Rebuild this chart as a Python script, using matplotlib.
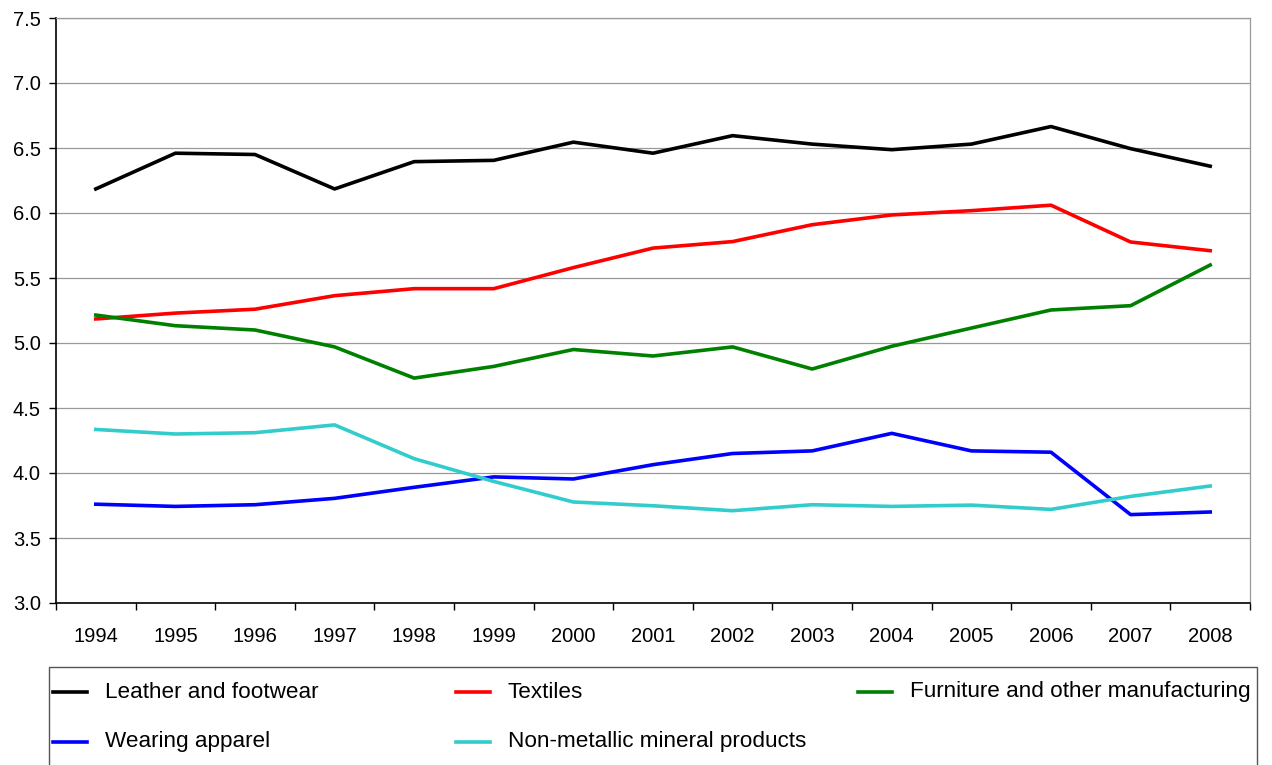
import matplotlib
matplotlib.use("Agg")
import matplotlib.pyplot as plt
from matplotlib.lines import Line2D
from matplotlib.patches import Rectangle
from matplotlib.ticker import FixedLocator, FormatStrFormatter

plt.rcParams['font.family'] = ['Liberation Sans', 'DejaVu Sans']

years = ['1994', '1995', '1996', '1997', '1998', '1999', '2000', '2001',
         '2002', '2003', '2004', '2005', '2006', '2007', '2008']

leather = [6.185, 6.46, 6.45, 6.185, 6.395, 6.405, 6.545, 6.46, 6.595, 6.53, 6.487, 6.53, 6.665, 6.495, 6.36]
textiles = [5.185, 5.23, 5.26, 5.364, 5.418, 5.418, 5.58, 5.73, 5.78, 5.91, 5.985, 6.018, 6.06, 5.777, 5.71]
furniture = [5.215, 5.133, 5.10, 4.97, 4.73, 4.82, 4.95, 4.90, 4.97, 4.80, 4.975, 5.115, 5.254, 5.287, 5.60]
apparel = [3.76, 3.743, 3.756, 3.805, 3.89, 3.97, 3.954, 4.064, 4.15, 4.17, 4.305, 4.17, 4.16, 3.68, 3.70]
mineral = [4.335, 4.30, 4.31, 4.37, 4.11, 3.935, 3.777, 3.748, 3.71, 3.756, 3.743, 3.753, 3.72, 3.82, 3.90]

series = [
    ("Leather and footwear", leather, "#000000"),
    ("Textiles", textiles, "#FF0000"),
    ("Furniture and other manufacturing", furniture, "#008000"),
    ("Wearing apparel", apparel, "#0000FF"),
    ("Non-metallic mineral products", mineral, "#33CCCC"),
]

fig = plt.figure(figsize=(12.72, 7.65), dpi=100)
W, H = 1272, 765
ax = fig.add_axes([56 / W, 1 - 603 / H, (1250 - 56) / W, (603 - 18) / H])

x = list(range(len(years)))
for name, vals, col in series:
    ax.plot(x, vals, color=col, lw=2.6, zorder=3)

ax.set_xlim(-0.5, len(years) - 0.5)
ax.set_ylim(3.0, 7.5)
ax.yaxis.set_major_locator(FixedLocator([3.0 + 0.5 * i for i in range(10)]))
ax.yaxis.set_major_formatter(FormatStrFormatter('%.1f'))
ax.grid(axis='y', color='#999999', lw=0.9, zorder=0)

ax.set_xticks(x)
ax.set_xticklabels(years)
ax.tick_params(axis='x', which='major', length=0, pad=17, labelsize=14.5)
ax.set_xticks([i - 0.5 for i in range(len(years) + 1)], minor=True)
ax.tick_params(axis='x', which='minor', length=5, width=1, color='black', direction='out')
ax.tick_params(axis='y', length=5, width=1, direction='out', labelsize=14.5, pad=6)

for s in ['top', 'right']:
    ax.spines[s].set_color('#999999')
    ax.spines[s].set_linewidth(0.9)
for s in ['left', 'bottom']:
    ax.spines[s].set_color('black')
    ax.spines[s].set_linewidth(1.2)

# legend box (manual layout)
rect = Rectangle((49 / W, 1 - 790 / H), (1257 - 49) / W, (790 - 667) / H,
                 transform=fig.transFigure, facecolor='white', edgecolor='#555555',
                 lw=1.0, clip_on=False)
fig.patches.append(rect)
col_x = [53, 456, 858]
row_y = [692, 742]
for i, (name, vals, col) in enumerate(series):
    r, c = divmod(i, 3)
    yy = 1 - row_y[r] / H
    x0 = col_x[c]
    fig.lines.append(Line2D([x0 / W, (x0 + 34) / W], [yy, yy], transform=fig.transFigure,
                            color=col, lw=2.6))
    fig.text((x0 + 52) / W, yy, name, fontsize=16.2, va='center', ha='left')

fig.savefig("out.png", dpi=100)
